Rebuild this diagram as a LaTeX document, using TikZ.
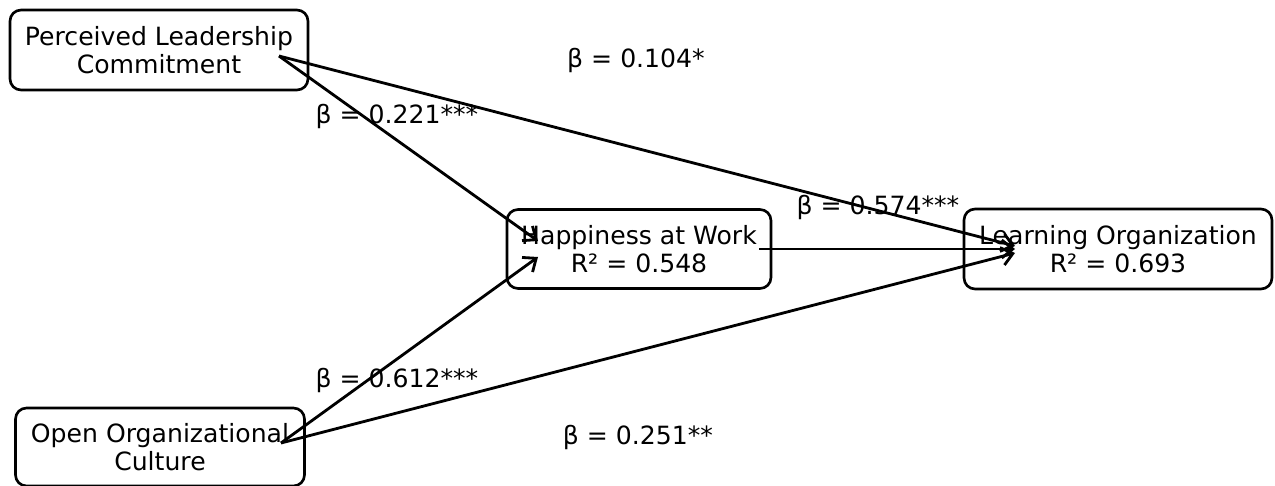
\documentclass[tikz,border=0pt]{standalone}
\usepackage{fontspec}
\setmainfont{DejaVu Sans}
\usepackage{tikz}
\usetikzlibrary{arrows.meta}

\begin{document}
\begin{tikzpicture}[x=0.02cm, y=-0.02cm,
        every node/.style={font=\fontsize{14.3}{16}\selectfont},
        varBox/.style={rectangle, rounded corners=2.2mm, draw=black, line width=1.5pt,
                       fill=white, align=center, inner sep=0pt},
        pathArr/.style={line width=1.6pt, -{Straight Barb[length=2.2mm, width=3.6mm, line width=1.6pt]}},
        betaLbl/.style={inner sep=0pt},
      ]
        \useasboundingbox (0,0) rectangle (1275,486);

        % constructs
        \node[varBox, minimum width=5.96cm, minimum height=1.6cm] (plc) at (159,50)
              {Perceived Leadership\\Commitment};
        \node[varBox, minimum width=5.78cm, minimum height=1.56cm] (ooc) at (160,447)
              {Open Organizational\\Culture};
        \node[varBox, minimum width=5.28cm, minimum height=1.58cm] (hw) at (639,249)
              {Happiness at Work\\R² = 0.548};
        \node[varBox, minimum width=6.16cm, minimum height=1.6cm] (lo) at (1118,249)
              {Learning Organization\\R² = 0.693};

        % arrow ends
        \coordinate (plcOut) at (279,56);
        \coordinate (oocOut) at (281,443);
        \coordinate (hwOut) at (759,249);
        \coordinate (hwInA) at (538,241);
        \coordinate (hwInB) at (538,257);
        \coordinate (loInA) at (1015,246);
        \coordinate (loInB) at (1015,249);
        \coordinate (loInC) at (1015,253);

        \draw[pathArr] (plcOut) -- (loInA);
        \draw[pathArr] (plcOut) -- (hwInA);
        \draw[pathArr] (oocOut) -- (hwInB);
        \draw[pathArr] (oocOut) -- (loInC);
        \draw[pathArr] (hwOut) -- (loInB);

        % coefficients
        \node[betaLbl] (b1) at (636,60) {β = 0.104*};
        \node[betaLbl] (b2) at (397,116) {β = 0.221***};
        \node[betaLbl] (b3) at (878,207) {β = 0.574***};
        \node[betaLbl] (b4) at (397,380) {β = 0.612***};
        \node[betaLbl] (b5) at (638,437) {β = 0.251**};
      \end{tikzpicture}
\end{document}
